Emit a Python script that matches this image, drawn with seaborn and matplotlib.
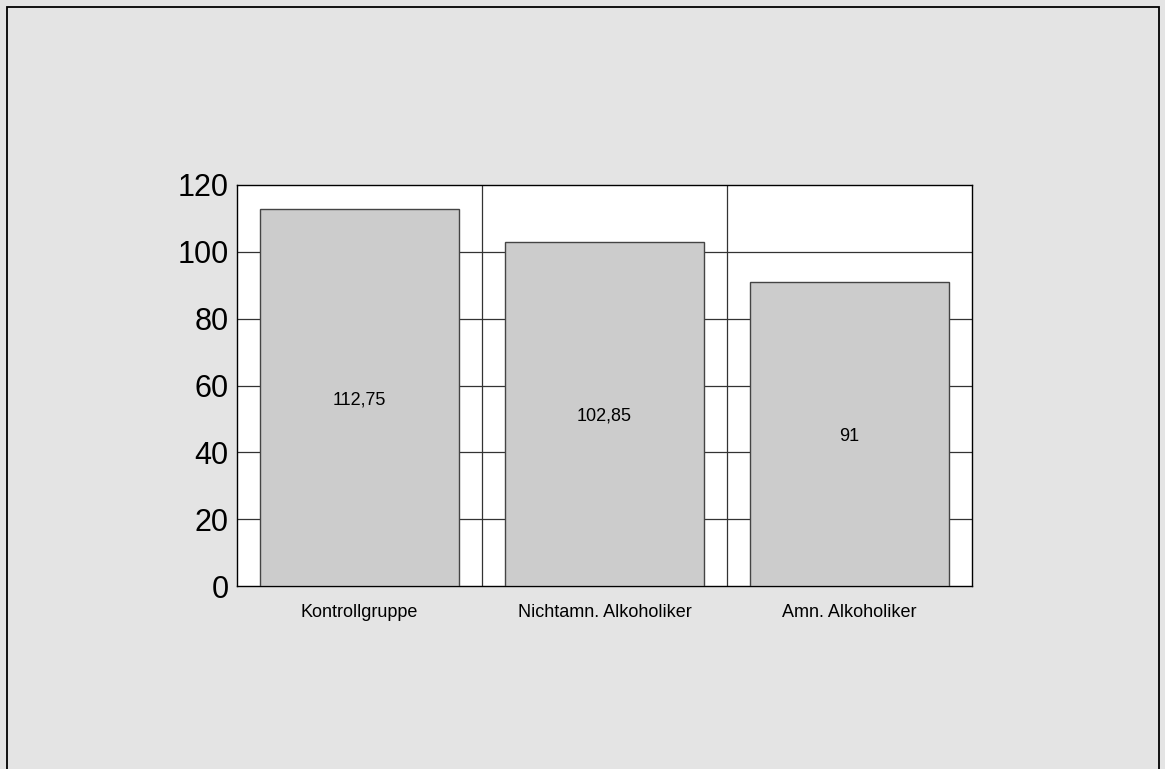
import matplotlib
matplotlib.use("Agg")
import matplotlib.pyplot as plt
import seaborn as sns
from matplotlib.patches import Rectangle

categories = ["Kontrollgruppe", "Nichtamn. Alkoholiker", "Amn. Alkoholiker"]
values = [112.75, 102.85, 91]
value_labels = ["112,75", "102,85", "91"]
y_ticks = [0, 20, 40, 60, 80, 100, 120]

sns.set_style("white")
plt.rcParams["font.family"] = ["Liberation Sans", "DejaVu Sans"]
plt.rcParams["text.color"] = "black"
plt.rcParams["xtick.color"] = "black"
plt.rcParams["ytick.color"] = "black"

W, H = 1165, 769
fig = plt.figure(figsize=(W / 100, H / 100), dpi=100)
fig.patch.set_facecolor("#e4e4e4")

# frame around the page (bottom edge runs off the canvas)
fig.patches.append(Rectangle((7 / W, -0.05), (1159 - 7) / W, 1.05 - 7 / H,
                             transform=fig.transFigure, fill=False,
                             edgecolor="black", linewidth=1.3, zorder=0))

ax = fig.add_axes([237 / W, 1 - 586 / H, (972 - 237) / W, (586 - 185) / H])
ax.set_facecolor("white")

sns.barplot(x=categories, y=values, color="#cccccc", edgecolor="#444444",
            linewidth=1.0, width=0.81, saturation=1, ax=ax, zorder=3)

ax.set_ylim(0, 120)
ax.set_xlim(-0.5, len(categories) - 0.5)
ax.set_yticks(y_ticks)
ax.set_yticklabels([str(t) for t in y_ticks], fontsize=22)
ax.tick_params(axis="y", length=0, pad=6, labelcolor="black")
ax.tick_params(axis="x", length=0, pad=13, labelsize=13, labelcolor="black")
ax.set_xlabel("")
ax.set_ylabel("")

for t in y_ticks[1:-1]:
    ax.axhline(t, color="#333333", linewidth=0.9, zorder=1)
for i in range(1, len(categories)):
    ax.axvline(i - 0.5, color="#333333", linewidth=0.9, zorder=1)

for i, (v, lab) in enumerate(zip(values, value_labels)):
    ax.annotate(lab, (i, v / 2), xytext=(0, -1.5), textcoords="offset points",
                ha="center", va="center", fontsize=13, color="black", zorder=4)

for s in ax.spines.values():
    s.set_color("black")
    s.set_linewidth(1.0)
    s.set_visible(True)

fig.savefig("out.png", dpi=100, facecolor=fig.get_facecolor())
